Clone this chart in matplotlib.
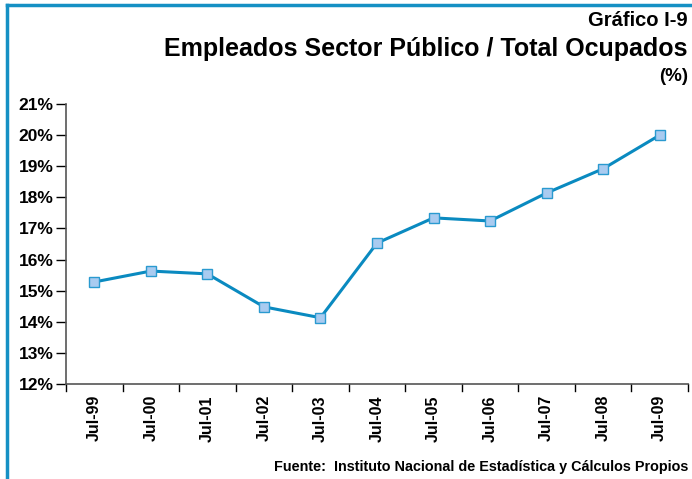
import matplotlib
matplotlib.use("Agg")
import matplotlib.pyplot as plt
from matplotlib.lines import Line2D

plt.rcParams['font.family'] = ['Liberation Sans', 'DejaVu Sans']
plt.rcParams['font.weight'] = 'bold'

categories = ["Jul-99", "Jul-00", "Jul-01", "Jul-02", "Jul-03", "Jul-04",
              "Jul-05", "Jul-06", "Jul-07", "Jul-08", "Jul-09"]
values = [15.28, 15.63, 15.54, 14.48, 14.13, 16.53, 17.34, 17.24, 18.14, 18.92, 20.0]
ytick_vals = [12, 13, 14, 15, 16, 17, 18, 19, 20, 21]
ytick_labels = [f"{v}%" for v in ytick_vals]

W, H = 692, 479
fig = plt.figure(figsize=(W / 100, H / 100), dpi=100)

# axes placement in pixels
left, right, top, bottom = 66, 688, 104, 384
ax = fig.add_axes([left / W, 1 - bottom / H, (right - left) / W, (bottom - top) / H])

x = list(range(len(categories)))
ax.plot(x, values, color="#0a8ac0", lw=2.2, marker="s", ms=7.5,
        mfc="#a9cbf0", mec="#2a9ad0", mew=1.0, zorder=3)

ax.set_xlim(-0.5, len(categories) - 0.5)
ax.set_ylim(12, 21)
ax.set_yticks(ytick_vals)
ax.set_yticklabels(ytick_labels, fontsize=12.5, fontweight="bold")
ax.set_xticks(x)
ax.set_xticklabels(categories, rotation=90, fontsize=11.5, fontweight="bold")
ax.tick_params(axis="x", which="major", length=0, pad=8)
# category separators crossing the axis downward
for i in range(-1, len(categories)):
    ax.plot([i + 0.5, i + 0.5], [12, 12 - 0.22], color="black", lw=1, clip_on=False, zorder=2)
ax.tick_params(axis="y", length=7, width=1, direction="out", color="black", pad=2)

for s in ["top", "right"]:
    ax.spines[s].set_visible(False)
ax.spines["left"].set_color("#555555")
ax.spines["bottom"].set_color("#555555")
ax.spines["left"].set_linewidth(1.2)
ax.spines["bottom"].set_linewidth(1.2)

# titles
fig.text(688 / W, 1 - 20 / H, "Gráfico I-9", ha="right", va="center", fontsize=14.5, fontweight="bold")
fig.text(688 / W, 1 - 49 / H, "Empleados Sector Público / Total Ocupados", ha="right", va="center",
         fontsize=18, fontweight="bold")
fig.text(688 / W, 1 - 76 / H, "(%)", ha="right", va="center", fontsize=13.5, fontweight="bold")
fig.text(688 / W, 1 - 467 / H, "Fuente:  Instituto Nacional de Estadística y Cálculos Propios",
         ha="right", va="center", fontsize=10.4, fontweight="bold")

# blue frame on top and left
fig.add_artist(Line2D([6.5 / W, 1.0], [1 - 4.5 / H, 1 - 4.5 / H], color="#1590c4", lw=2.5,
                      transform=fig.transFigure))
fig.add_artist(Line2D([6.5 / W, 6.5 / W], [0, 1 - 4.5 / H], color="#1590c4", lw=2.5,
                      transform=fig.transFigure))

fig.savefig("out.png", dpi=100)
